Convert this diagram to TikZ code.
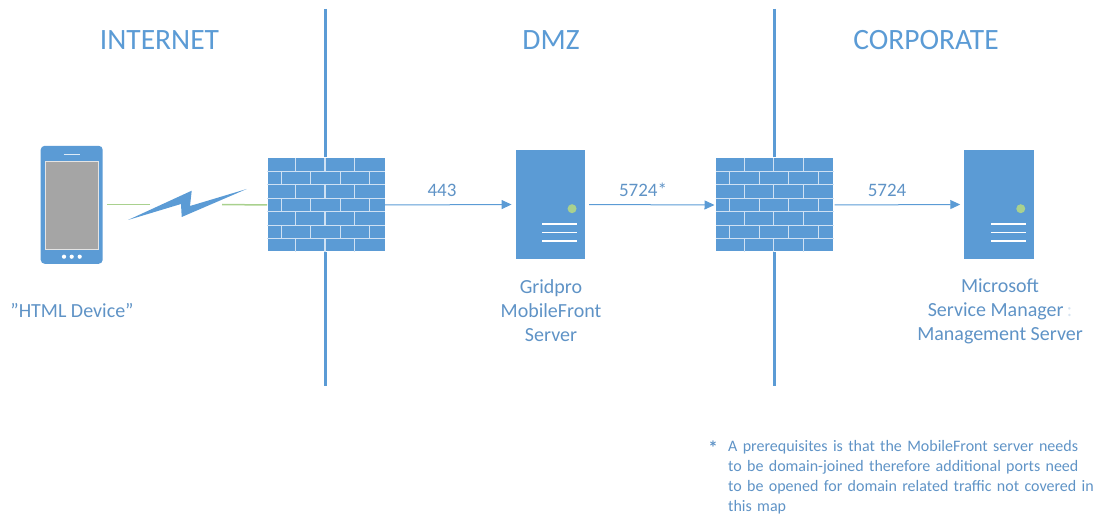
\documentclass[tikz,border=0pt]{standalone}
\usepackage{fontspec}
\setmainfont{Carlito}
\usetikzlibrary{arrows.meta}
\definecolor{ms}{HTML}{5B9BD5}
\definecolor{txt}{HTML}{5F93C6}
\definecolor{grn}{HTML}{A9D18E}
\definecolor{scr}{HTML}{A5A5A5}
\definecolor{halo}{HTML}{CFE1F3}
\tikzset{
  zone/.style={text=ms,font=\fontsize{29.5}{30}\selectfont,anchor=center,inner sep=0pt},
  lbl/.style={text=txt,font=\fontsize{20}{24}\selectfont,align=center,anchor=center,inner sep=0pt},
  port/.style={text=txt,font=\fontsize{19}{24}\selectfont,anchor=center,inner sep=0pt},
  note/.style={text=txt,font=\fontsize{16}{20}\selectfont,align=left,anchor=north west,inner sep=0pt,text width=368pt},
  divider/.style={draw=ms,line width=3pt},
  wallbox/.style={fill=ms,draw=white,line width=1pt,minimum width=118pt,minimum height=94pt,inner sep=0pt,outer sep=0pt},
  serverbox/.style={fill=ms,draw=none,minimum width=69.5pt,minimum height=109pt,inner sep=0pt,outer sep=0pt},
  phonebox/.style={fill=ms,draw=none,rounded corners=4pt,minimum width=62pt,minimum height=118pt,inner sep=0pt,outer sep=0pt},
  link/.style={draw=ms,line width=1pt,-{Triangle[length=10pt,width=9pt]},shorten <=2pt,shorten >=4pt},
  radio/.style={draw=grn,line width=1.5pt},
  mortar/.style={draw=halo,line width=1.2pt}
}
\newcommand{\bricks}[1]{%
  \foreach \r in {1,...,6} \draw[mortar] ([yshift=-13.43*\r pt]#1.north west) -- ([yshift=-13.43*\r pt]#1.north east);
  \foreach \r in {0,2,4,6} \foreach \c in {28.7,58,87.7}
    \draw[mortar] ([xshift=\c pt,yshift=-13.43*\r pt]#1.north west) -- ([xshift=\c pt,yshift=-13.43*\r-13.43 pt]#1.north west);
  \foreach \r in {1,3,5} \foreach \c in {14.3,43.7,73.3,102.7}
    \draw[mortar] ([xshift=\c pt,yshift=-13.43*\r pt]#1.north west) -- ([xshift=\c pt,yshift=-13.43*\r-13.43 pt]#1.north west);
}
\newcommand{\serverparts}[1]{%
  \fill[grn] ([xshift=-13pt,yshift=-58.7pt]#1.north east) circle (4.5pt);
  \foreach \yy in {74,82.5,91}
    \draw[white,line width=1.6pt] ([xshift=-43pt,yshift=-\yy pt]#1.north east) -- ([xshift=-8pt,yshift=-\yy pt]#1.north east);
}
\begin{document}
\begin{tikzpicture}[x=1pt,y=-1pt]
\useasboundingbox (0,0) rectangle (1099,518);
% dividers
\coordinate (d1t) at (325.5,9); \coordinate (d1b) at (325.5,386);
\coordinate (d2t) at (774,9); \coordinate (d2b) at (774,386);
\draw[divider] (d1t) -- (d1b);
\draw[divider] (d2t) -- (d2b);
% zone titles
\node[zone] (internet) at (159.5,40) {INTERNET};
\node[zone] (dmz) at (551,40) {DMZ};
\node[zone] (corporate) at (926,40) {CORPORATE};
% phone
\node[phonebox] (phone) at (71.7,204.8) {};
\fill[white!70!scr] (45,161.5) rectangle (99,250.5);
\fill[scr] (46,162.5) rectangle (98,249.5);
\draw[white!80!ms,line width=1.2pt] (63.5,154.8) -- (80,154.8);
\foreach \xx in {64,71.7,79.7} \fill[white] (\xx,256.7) circle (2.1pt);
% firewalls
\node[wallbox] (fw1) at (326,205) {};
\bricks{fw1}
\node[wallbox] (fw2) at (774.5,205) {};
\bricks{fw2}
% servers
\node[serverbox] (srv1) at (550.3,204.5) {};
\serverparts{srv1}
\node[serverbox] (srv2) at (999,204.5) {};
\serverparts{srv2}
% radio link
\coordinate (boltl) at (150,204.5);
\coordinate (boltr) at (222,204.5);
\draw[radio] (107,204.5) -- (boltl);
\draw[radio] (boltr) -- (fw1.west);
\fill[ms] (128,220) -- (191.7,190.7) -- (190,206) -- (246.7,189) -- (181.7,217) -- (181,204) -- cycle;
% connectors
\draw[link,shorten <=0pt] (fw1.east) -- (srv1.west);
\draw[link,shorten >=1pt,shorten <=4pt] (srv1.east) -- (fw2.west);
\draw[link,shorten <=1pt] (fw2.east) -- (srv2.west);
% labels
\node[port] (p443) at (442,190) {443};
\node[port] (p5724s) at (643,190) {5724*};
\node[port] (p5724) at (887,190) {5724};
\node[lbl] (ldev) at (72,311) {”HTML Device”};
\node[lbl] (lgrid) at (551,311) {Gridpro\\MobileFront\\Server};
\node[lbl] (lms) at (1000,311) {Microsoft\\Service Manager\,\textcolor{txt!25}{:}\\Management Server};
\node[text=txt,font=\bfseries\fontsize{19}{20}\selectfont,anchor=north,inner sep=0pt] (star) at (713,441) {*};
\node[note] (fn) at (728,440.5) {A prerequisites is that the MobileFront server needs\\to be domain-joined therefore additional ports need\\to be opened for domain related traffic not covered in\\this map};
\end{tikzpicture}
\end{document}
